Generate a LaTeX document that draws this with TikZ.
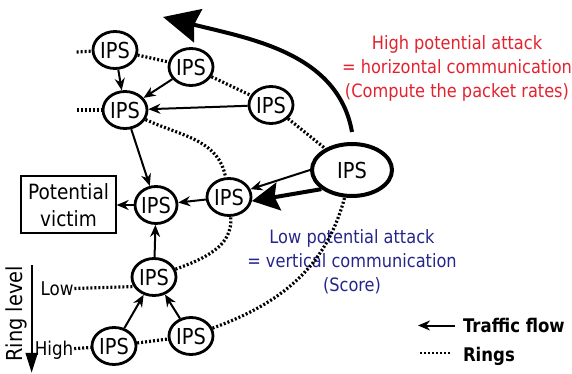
\documentclass[tikz,border=0pt]{standalone}
\usepackage{fontspec}
\setmainfont{DejaVu Sans}[FakeStretch=0.88]
\usetikzlibrary{shapes.geometric,arrows.meta}
\definecolor{hotred}{RGB}{228,34,46}
\definecolor{coolblue}{RGB}{38,38,138}

\begin{document}
\begin{tikzpicture}[->,>={Stealth[length=6pt,width=5pt]},auto,node distance=36pt,line width=1pt]
  \tikzstyle{ips}=[ellipse,draw=black,text=black,line width=1.4pt,minimum width=22pt,minimum height=18.5pt,inner sep=0pt,font=\fontsize{11}{12}\selectfont]
  \tikzstyle{bigips}=[ips,line width=2pt,minimum width=40pt,minimum height=26pt]
  \tikzstyle{victim}=[rectangle,draw=black,line width=1pt,minimum width=42.5pt,minimum height=28.5pt,align=center,font=\fontsize{10.5}{13.5}\selectfont]
  \tikzstyle{ringline}=[-,line width=1.6pt,dash pattern=on 1pt off 1pt]
  \tikzstyle{attacktext}=[align=center,inner sep=0pt,font=\fontsize{9.2}{12}\selectfont]
  \tikzstyle{ringlabel}=[inner sep=0pt,font=\fontsize{9.5}{11}\selectfont]
  \tikzstyle{legendtext}=[inner sep=0pt,font=\fontsize{9.4}{11}\selectfont\bfseries]
  \tikzstyle{bigarrow}=[-{Stealth[length=18pt,width=17pt,inset=2pt]},line width=2pt]

  \useasboundingbox (-78pt,-84.5pt) rectangle (208pt,102.5pt);

  \node[ips, minimum width=20pt] (E) {IPS};
  \node[ips]      (G) [below of=E, xshift=-1pt] {IPS};
  \node[ips]      (H) [below of=G, xshift=-20pt, yshift=1.5pt] {IPS};
  \node[ips]      (I) [below of=G, xshift=18.5pt, yshift=6.5pt] {IPS};
  \node[ips]      (F) [right of=E, xshift=0.5pt, yshift=4pt] {IPS};
  \node[victim]   (V) [left of=E, xshift=-7.75pt] {Potential\\victim};
  \node[ips]      (C) [above of=E, xshift=-15.5pt, yshift=11.5pt] {IPS};
  \node[ips]      (A) [above of=C, xshift=-5pt, yshift=-6pt] {IPS};
  \node[ips]      (B) [right of=C, xshift=-3pt, yshift=21.5pt] {IPS};
  \node[ips]      (D) [right of=B, xshift=4pt, yshift=-19pt] {IPS};
  \node[bigips]   (S) [right of=F, xshift=25.5pt, yshift=13.5pt] {IPS};

  \node[attacktext, text=hotred]   (hpa) [above of=S, xshift=52.5pt, yshift=15pt] {High potential attack\\= horizontal communication\\(Compute the packet rates)};
  \node[attacktext, text=coolblue] (lpa) [below of=S, yshift=-10pt] {Low potential attack\\= vertical communication\\(Score)};

  \node[ringlabel] (low)  [left of=G, xshift=-12.5pt, yshift=-6pt] {Low};
  \node[ringlabel] (high) [left of=H, xshift=6pt, yshift=-2pt] {High};
  \node[ringlabel, font=\fontsize{11}{13}\selectfont] (RL) [left of=high, xshift=17pt, yshift=18pt, rotate=90] {Ring level};

  \node[legendtext] (traffic) [below of=S, xshift=55pt, yshift=-41.75pt, anchor=west] {Traffic flow};
  \node[legendtext] (rings)   [below of=S, xshift=55pt, yshift=-57pt, anchor=west] {Rings};

  \path (A.west) ++(-7.5pt,-1pt) coordinate (A0);
  \path (C.west) ++(-12.5pt,0pt) coordinate (C0);
  \path (B) ++(-14pt,25pt) coordinate (top);
  \path (traffic.west) ++(-3.5pt,0pt) coordinate (t1) ++(-18.5pt,0pt) coordinate (t0);
  \path (rings.west) ++(-5pt,1.5pt) coordinate (r1) ++(-16pt,0pt) coordinate (r0);

  % rings
  \path (A0) edge[ringline] (A)
        (A)  edge[ringline] (B)
        (B)  edge[ringline] (D)
        (D)  edge[ringline] (S)
        (C0) edge[ringline] (C)
        (C)  edge[ringline, out=-25, in=100] (F)
        (low) edge[ringline] (G.205)
        (G)  edge[ringline, out=20, in=-85] (F)
        (high) edge[ringline] (H)
        (H)  edge[ringline] (I)
        (I)  edge[ringline, out=20, in=-105] (S)
        (r0) edge[ringline, line width=1pt] (r1);

  % traffic flow
  \path (A) edge (C)
        (B) edge (C)
        (D) edge (C)
        (C) edge (E)
        (F) edge (E)
        (E) edge (V)
        (G) edge (E)
        (H) edge (G)
        (I) edge (G)
        (S.west) edge (F.20)
        (t1) edge (t0);

  \draw[bigarrow] ([yshift=5pt]S.north) .. controls +(100:40pt) and +(-14:45pt) .. (top);
  \draw[-{Stealth[length=13.5pt,width=14pt,inset=2pt]}, line width=2pt] (S.212) -- (F.350);
  \draw[-{Triangle[length=10pt,width=6pt]}, line width=1pt] ([xshift=2pt]RL.south east) -- ([xshift=2pt,yshift=-5pt]RL.south west);
\end{tikzpicture}
\end{document}
